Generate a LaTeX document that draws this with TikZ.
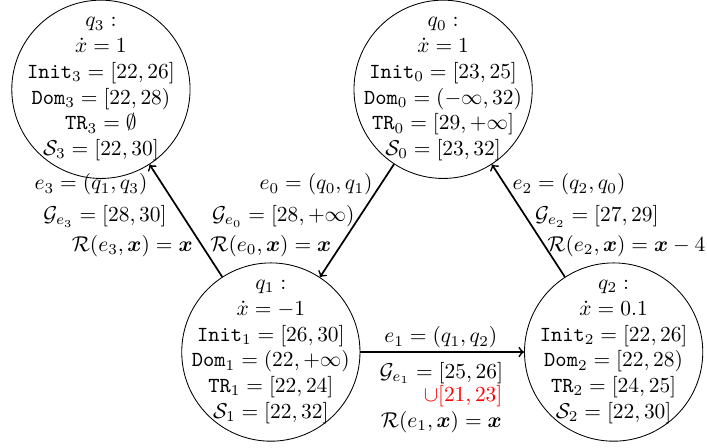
\documentclass[tikz,border=0pt]{standalone}
\usepackage{amsmath,amssymb,xcolor}
\begin{document}
\begin{tikzpicture}[scale=0.95,
  mode/.style={circle, draw, minimum size=2.92cm, inner sep=0pt},
  modetext/.style={align=center, inner sep=0pt},
  lbl/.style={inner sep=0pt},
  trans/.style={->, thick}]
  \useasboundingbox (0,0) rectangle (12.19,7.71);
  % Locations q0..q3 (circle, then its contents)
  \foreach \nm/\x/\y in {q3/1.74/6.17, q0/7.64/6.17, q1/4.67/1.64, q2/10.58/1.64}{
    \node[mode] (\nm) at (\x,\y) {};
  }
  \node[modetext] (t3) at (q3) {$q_3:$\\ $\dot{x}=1$\\ $\texttt{Init}_3=[22,26]$\\
    $\texttt{Dom}_3=[22,28)$\\ $\texttt{TR}_3=\emptyset$\\ $\mathcal{S}_3=[22,30]$};
  \node[modetext] (t0) at (q0) {$q_0:$\\ $\dot{x}=1$\\ $\texttt{Init}_0=[23,25]$\\
    $\texttt{Dom}_0=(-\infty,32)$\\ $\texttt{TR}_0=[29,+\infty]$\\ $\mathcal{S}_0=[23,32]$};
  \node[modetext] (t1) at (q1) {$q_1:$\\ $\dot{x}=-1$\\ $\texttt{Init}_1=[26,30]$\\
    $\texttt{Dom}_1=(22,+\infty)$\\ $\texttt{TR}_1=[22,24]$\\ $\mathcal{S}_1=[22,32]$};
  \node[modetext] (t2) at (q2) {$q_2:$\\ $\dot{x}=0.1$\\ $\texttt{Init}_2=[22,26]$\\
    $\texttt{Dom}_2=[22,28)$\\ $\texttt{TR}_2=[24,25]$\\ $\mathcal{S}_2=[22,30]$};
  % Transitions
  \draw[trans] (q0) -- (q1);
  \draw[trans] (q1) -- (q2);
  \draw[trans] (q2) -- (q0);
  \draw[trans] (q1) -- (q3);
  % Edge labels: event, guard, reset
  \foreach \nm/\anc/\x/\y/\txt in {
      e3a/east/2.55/4.53/{$e_3=(q_1,q_3)$},
      e3b/east/2.88/3.98/{$\mathcal{G}_{e_3}=[28,30]$},
      e3c/east/3.33/3.47/{$\mathcal{R}(e_3,\boldsymbol{x})=\boldsymbol{x}$},
      e0a/east/6.43/4.53/{$e_0=(q_0,q_1)$},
      e0b/east/6.12/3.98/{$\mathcal{G}_{e_0}=[28,+\infty)$},
      e0c/east/5.72/3.47/{$\mathcal{R}(e_0,\boldsymbol{x})=\boldsymbol{x}$},
      e2a/west/8.83/4.53/{$e_2=(q_2,q_0)$},
      e2b/west/9.22/3.98/{$\mathcal{G}_{e_2}=[27,29]$},
      e2c/west/9.43/3.47/{$\mathcal{R}(e_2,\boldsymbol{x})=\boldsymbol{x}-4$},
      e1a/center/7.60/1.89/{$e_1=(q_1,q_2)$},
      e1b/center/7.61/1.28/{$\mathcal{G}_{e_1}=[25,26]$},
      e1c/east/8.67/0.88/{$\textcolor{red}{\cup[21,23]}$},
      e1d/center/7.61/0.43/{$\mathcal{R}(e_1,\boldsymbol{x})=\boldsymbol{x}$}}{
    \node[lbl, anchor=\anc] (\nm) at (\x,\y) {\txt};
  }
\end{tikzpicture}
\end{document}
